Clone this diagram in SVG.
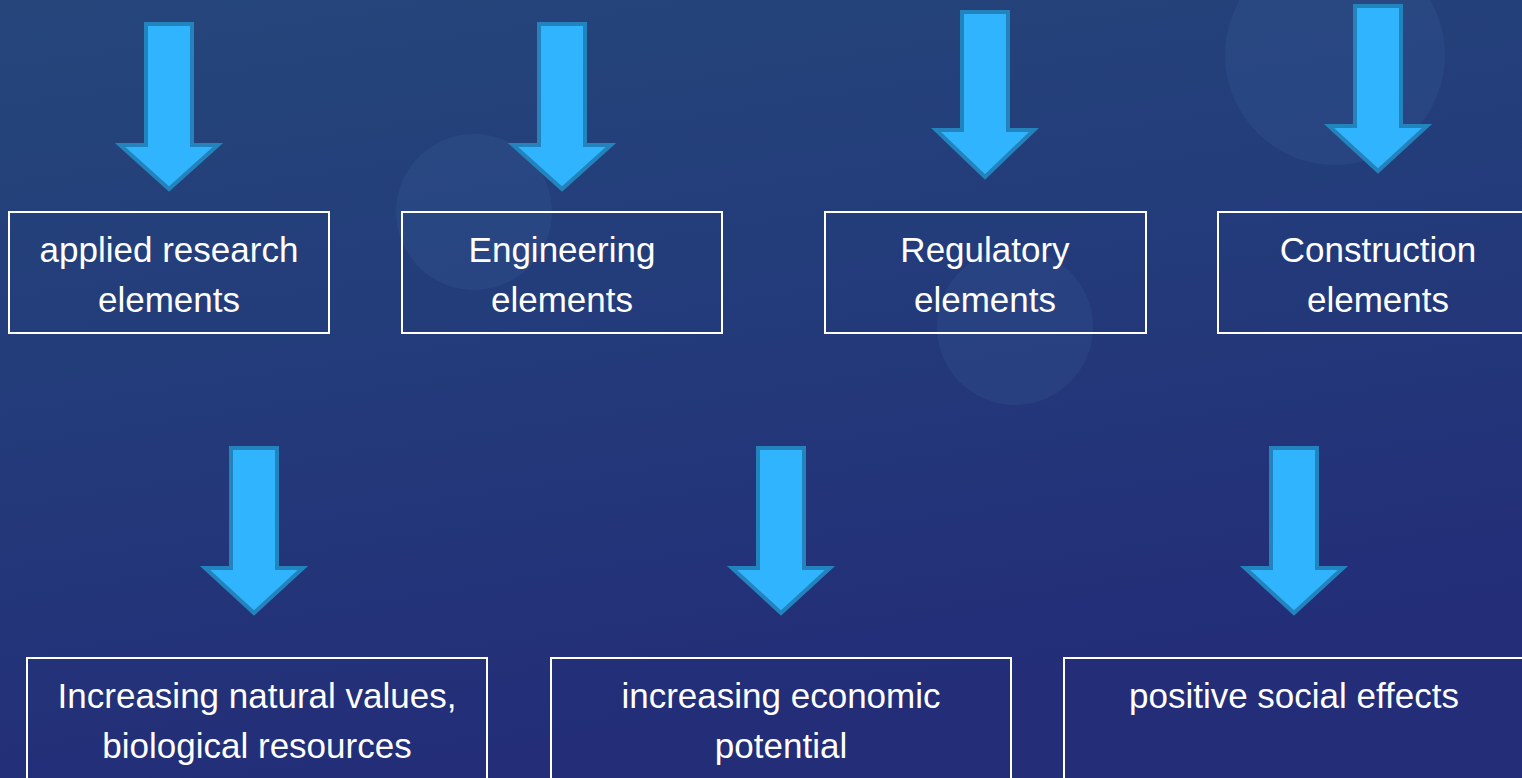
<svg xmlns="http://www.w3.org/2000/svg" width="1522" height="778" viewBox="0 0 1522 778">
  <defs>
    <linearGradient id="bg" x1="0" y1="0" x2="0.3" y2="1">
      <stop offset="0" stop-color="#25467b"/>
      <stop offset="0.5" stop-color="#233b7a"/>
      <stop offset="1" stop-color="#232d78"/>
    </linearGradient>
    <style>
      .bubble { fill: #4a7ab0; opacity: 0.13; }
      .box { fill: none; stroke: #ffffff; stroke-width: 2; }
      .lbl { font-family: "Liberation Sans", Arial, sans-serif; font-size: 35px; fill: #ffffff; text-anchor: middle; }
      .arrow { fill: #31b4fe; stroke: #2283bd; stroke-width: 4; stroke-linejoin: miter; }
    </style>
  </defs>
  <rect x="0" y="0" width="1522" height="778" fill="url(#bg)"/>
  <g id="background">
    <circle class="bubble" cx="474" cy="212" r="78"/>
    <circle class="bubble" cx="1015" cy="327" r="78"/>
    <circle class="bubble" cx="1335" cy="55" r="110"/>
  </g>
  <g id="connectors">
    <path class="arrow" d="M146,24 H192 V145 H218 L169,189 L120,145 H146 Z"/>
    <path class="arrow" d="M539,24 H585 V145 H611 L562,189 L513,145 H539 Z"/>
    <path class="arrow" d="M962,12 H1008 V130 H1034 L985,177 L936,130 H962 Z"/>
    <path class="arrow" d="M1355,6 H1401 V126 H1427 L1378,171 L1329,126 H1355 Z"/>
    <path class="arrow" d="M231,448 H277 V568 H303 L254,613 L205,568 H231 Z"/>
    <path class="arrow" d="M758,448 H804 V568 H830 L781,613 L732,568 H758 Z"/>
    <path class="arrow" d="M1271,448 H1317 V568 H1343 L1294,613 L1245,568 H1271 Z"/>
  </g>
  <g id="node-applied">
    <rect class="box" x="9" y="212" width="320" height="121"/>
    <text class="lbl" x="169" y="262">applied research</text>
    <text class="lbl" x="169" y="312">elements</text>
  </g>
  <g id="node-engineering">
    <rect class="box" x="402" y="212" width="320" height="121"/>
    <text class="lbl" x="562" y="262">Engineering</text>
    <text class="lbl" x="562" y="312">elements</text>
  </g>
  <g id="node-regulatory">
    <rect class="box" x="825" y="212" width="321" height="121"/>
    <text class="lbl" x="985" y="262">Regulatory</text>
    <text class="lbl" x="985" y="312">elements</text>
  </g>
  <g id="node-construction">
    <rect class="box" x="1218" y="212" width="310" height="121"/>
    <text class="lbl" x="1378" y="262">Construction</text>
    <text class="lbl" x="1378" y="312">elements</text>
  </g>
  <g id="node-natural">
    <rect class="box" x="27" y="658" width="460" height="130"/>
    <text class="lbl" x="257" y="708">Increasing natural values,</text>
    <text class="lbl" x="257" y="758">biological resources</text>
  </g>
  <g id="node-economic">
    <rect class="box" x="551" y="658" width="460" height="130"/>
    <text class="lbl" x="781" y="708">increasing economic</text>
    <text class="lbl" x="781" y="758">potential</text>
  </g>
  <g id="node-social">
    <rect class="box" x="1064" y="658" width="470" height="130"/>
    <text class="lbl" x="1294" y="708">positive social effects</text>
  </g>
</svg>
